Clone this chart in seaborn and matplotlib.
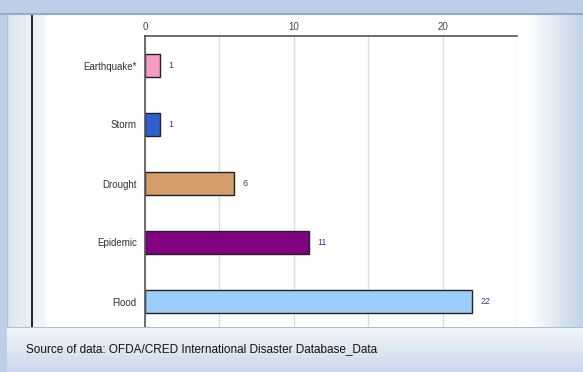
import matplotlib
matplotlib.use("Agg")
import matplotlib.pyplot as plt
import seaborn as sns
import numpy as np
import pandas as pd
from matplotlib.patches import Rectangle
from matplotlib.colors import LinearSegmentedColormap

categories = ["Earthquake*", "Storm", "Drought", "Epidemic", "Flood"]
values = [1, 1, 6, 11, 22]
bar_colors = ["#f59cc4", "#2f5fcf", "#d49e68", "#820082", "#9dcdfa"]
tick_values = [0, 10, 20]
source_text = "Source of data: OFDA/CRED International Disaster Database_Data"

W, H = 583, 372
sns.set_theme(style="white")
plt.rcParams['font.family'] = ['Liberation Sans', 'DejaVu Sans']

fig = plt.figure(figsize=(W / 100, H / 100), dpi=100)

def box(x0, y0, x1, y1):
    return [x0 / W, 1 - y1 / H, (x1 - x0) / W, (y1 - y0) / H]

# background
bg = fig.add_axes([0, 0, 1, 1], zorder=0)
bg.set_xlim(0, W); bg.set_ylim(H, 0); bg.axis("off")
bg.add_patch(Rectangle((0, 0), W, H, color="#bccfe6"))
bg.add_patch(Rectangle((7, 14), W - 7, H - 14, color="#ffffff"))
# left gray strip gradient
g = np.linspace(0, 1, 50).reshape(1, -1)
cm_left = LinearSegmentedColormap.from_list("l", ["#dde5ef", "#f4f6f9"])
bg.imshow(g, cmap=cm_left, extent=(7, 46, H, 14), aspect="auto", zorder=1)
cm_right = LinearSegmentedColormap.from_list("r", ["#ffffff", "#c3d3e7"])
bg.imshow(g, cmap=cm_right, extent=(528, W, H, 14), aspect="auto", zorder=1)
bg.plot([32, 32], [14, 330], color="#111111", lw=1.3, zorder=2)
bg.plot([0, W], [14, 14], color="#8eaad2", lw=1.5, zorder=2)
bg.plot([7, 7], [14, H], color="#a8bedb", lw=1.0, zorder=2)
bg.set_xlim(0, W); bg.set_ylim(H, 0)

# chart
ax = fig.add_axes(box(145, 36, 517, 331), zorder=2)
ax.patch.set_alpha(0)
df = pd.DataFrame({"cause": categories, "count": values})
sns.barplot(data=df, x="count", y="cause", hue="cause", palette=bar_colors,
            legend=False, width=0.4, edgecolor="#222222", linewidth=1.0,
            saturation=1, ax=ax)
ax.set_xlim(0, 25)
ax.xaxis.tick_top()
ax.set_xticks(tick_values)
ax.set_xticks([5, 15, 25], minor=True)
ax.grid(True, axis="x", which="both", color="#dddddd", lw=1.0)
ax.set_axisbelow(True)
ax.tick_params(axis="x", which="both", length=0, pad=3, labelsize=7, labelcolor="#444444")
ax.tick_params(axis="y", length=0, pad=6, labelsize=7, labelcolor="#333333")
ax.set_xlabel(""); ax.set_ylabel("")
for s in ["right", "bottom"]:
    ax.spines[s].set_visible(False)
for s in ["top", "left"]:
    ax.spines[s].set_color("#555555")
    ax.spines[s].set_linewidth(1.2)
for cont in ax.containers:
    ax.bar_label(cont, labels=[f"{v:g}" for v in cont.datavalues], padding=6,
                 fontsize=6.5, color="#3b3b80")

# footer
ft = fig.add_axes(box(7, 327, W, H), zorder=5)
ft.set_xlim(0, 1); ft.set_ylim(1, 0); ft.axis("off")
gv = np.linspace(0, 1, 50).reshape(-1, 1)
cm_ft = LinearSegmentedColormap.from_list("f", ["#f4f7fb", "#c9d8ec"])
ft.imshow(gv, cmap=cm_ft, extent=(0, 1, 1, 0), aspect="auto")
ft.plot([0, 1], [0.01, 0.01], color="#a8bedb", lw=1.5)
ft.text(19 / (W - 7), 0.5, source_text, fontsize=8.5, color="#111111",
        ha="left", va="center", family=["Liberation Sans", "DejaVu Sans"])
ft.set_xlim(0, 1); ft.set_ylim(1, 0)

fig.savefig("out.png", dpi=100)
